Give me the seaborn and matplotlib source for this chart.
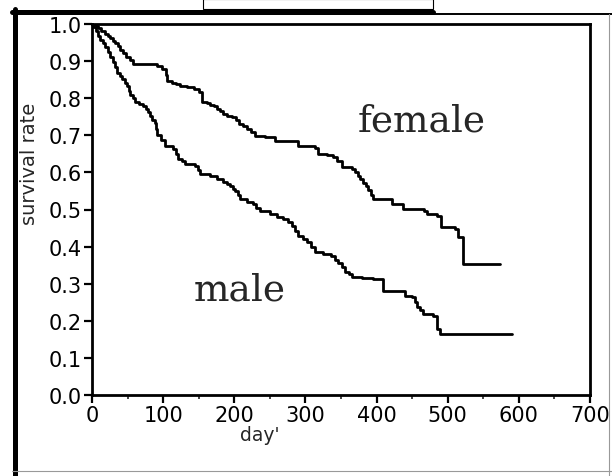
import matplotlib
matplotlib.use("Agg")
import matplotlib.pyplot as plt
from matplotlib.lines import Line2D
from matplotlib.patches import Rectangle
import seaborn as sns

# survival curves
female_day = [0, 5, 9, 13, 18, 22, 25, 29, 33, 36, 40, 44, 48, 53, 58, 92, 98, 104,
              106, 112, 118, 124, 134, 144, 151, 155, 161, 166, 171, 176, 180, 184,
              190, 197, 202, 206, 212, 218, 223, 229, 243, 257, 289, 314, 318, 330,
              339, 345, 351, 366, 370, 374, 377, 381, 385, 388, 392, 395, 422, 437,
              466, 471, 485, 490, 510, 514, 521, 574]
female_surv = [1.000, 0.995, 0.988, 0.980, 0.973, 0.968, 0.962, 0.955, 0.948, 0.940,
               0.930, 0.922, 0.912, 0.903, 0.892, 0.886, 0.879, 0.862, 0.846, 0.842,
               0.838, 0.833, 0.829, 0.825, 0.817, 0.790, 0.788, 0.783, 0.778, 0.772,
               0.766, 0.757, 0.753, 0.749, 0.740, 0.730, 0.724, 0.717, 0.708, 0.698,
               0.695, 0.685, 0.671, 0.666, 0.650, 0.647, 0.642, 0.631, 0.615, 0.609,
               0.600, 0.591, 0.582, 0.572, 0.562, 0.552, 0.540, 0.528, 0.515, 0.501,
               0.495, 0.488, 0.482, 0.453, 0.447, 0.426, 0.353, 0.353]

male_day = [0, 2, 5, 8, 11, 15, 18, 22, 25, 29, 32, 35, 39, 42, 46, 49, 52, 54, 58,
            61, 66, 71, 76, 79, 82, 85, 88, 90, 92, 97, 103, 114, 118, 121, 126, 131,
            145, 149, 152, 166, 175, 184, 190, 194, 198, 201, 205, 208, 218, 226, 231,
            236, 250, 260, 269, 276, 281, 286, 290, 296, 302, 308, 314, 325, 336, 341,
            346, 351, 356, 361, 366, 380, 395, 409, 436, 440, 450, 454, 457, 461, 465,
            480, 485, 489, 591]
male_surv = [1.000, 0.992, 0.982, 0.968, 0.958, 0.948, 0.938, 0.925, 0.911, 0.898,
             0.884, 0.868, 0.860, 0.852, 0.842, 0.833, 0.820, 0.809, 0.800, 0.790,
             0.784, 0.778, 0.771, 0.762, 0.752, 0.742, 0.733, 0.716, 0.701, 0.686,
             0.671, 0.663, 0.650, 0.636, 0.630, 0.623, 0.617, 0.606, 0.596, 0.590,
             0.582, 0.574, 0.568, 0.563, 0.556, 0.550, 0.540, 0.528, 0.521, 0.515,
             0.505, 0.496, 0.488, 0.481, 0.474, 0.465, 0.456, 0.442, 0.429, 0.420,
             0.412, 0.398, 0.385, 0.380, 0.375, 0.365, 0.356, 0.344, 0.332, 0.325,
             0.318, 0.315, 0.313, 0.280, 0.280, 0.267, 0.264, 0.250, 0.237, 0.228,
             0.218, 0.213, 0.178, 0.164, 0.164]

x_ticks = [0, 100, 200, 300, 400, 500, 600, 700]
y_ticks = [0.0, 0.1, 0.2, 0.3, 0.4, 0.5, 0.6, 0.7, 0.8, 0.9, 1.0]

sns.set_style("ticks")
plt.rcParams['font.family'] = ['DejaVu Sans']

W, H = 612, 477
fig = plt.figure(figsize=(W / 100, H / 100), dpi=100)
fig.patch.set_facecolor("white")

# axes box in pixels: left 92, right 590, top 25, bottom 396
ax = fig.add_axes([92 / W, 1 - 396 / H, (590 - 92) / W, (396 - 25) / H])

sns.lineplot(x=female_day, y=female_surv, ax=ax, color="black", linewidth=2.0,
             drawstyle="steps-post", estimator=None, sort=False)
sns.lineplot(x=male_day, y=male_surv, ax=ax, color="black", linewidth=2.0,
             drawstyle="steps-post", estimator=None, sort=False)

ax.set_xlim(0, 700)
ax.set_ylim(0, 1.0)
ax.set_xticks(x_ticks)
ax.set_xticks(range(50, 700, 100), minor=True)
ax.set_yticks(y_ticks)
ax.set_yticklabels([f"{v:.1f}" for v in y_ticks])

for s in ax.spines.values():
    s.set_visible(True)
    s.set_linewidth(2.0)
    s.set_color("black")

ax.tick_params(axis="both", which="major", direction="out", length=6, width=1.6,
               labelsize=15, colors="black", pad=1.5)
ax.tick_params(axis="x", which="minor", direction="out", length=3, width=1.2)

ax.set_xlabel("day'", fontsize=13.5)
ax.set_ylabel("survival rate", fontsize=14)
ax.xaxis.set_label_coords(0.337, -0.082)
ax.yaxis.set_label_coords(-0.106, 0.625)

ax.text(464, 0.712, "female", family="DejaVu Serif", fontsize=27,
        ha="center", va="baseline")
ax.text(207, 0.258, "male", family="DejaVu Serif", fontsize=27,
        ha="center", va="baseline")

# scanned frame around the figure
def fx(px):
    return px / W

def fy(py):
    return 1 - py / H

fig.add_artist(Line2D([fx(14.5), fx(14.5)], [fy(10), fy(477)], color="black", lw=3.6))
fig.add_artist(Line2D([fx(12), fx(433)], [fy(12.5), fy(12.5)], color="black", lw=3.6))
fig.add_artist(Line2D([fx(433), fx(612)], [fy(15), fy(15)], color="black", lw=1.4))
fig.add_artist(Line2D([fx(609), fx(609)], [fy(15), fy(477)], color="0.6", lw=0.8))
fig.add_artist(Line2D([fx(12), fx(612)], [fy(472), fy(472)], color="0.6", lw=0.8))
fig.add_artist(Rectangle((fx(203), fy(10)), fx(433) - fx(203), fy(0) - fy(10),
                         fill=False, edgecolor="black", lw=0.8))

fig.savefig("out.png", dpi=100, facecolor="white")
plt.close(fig)
